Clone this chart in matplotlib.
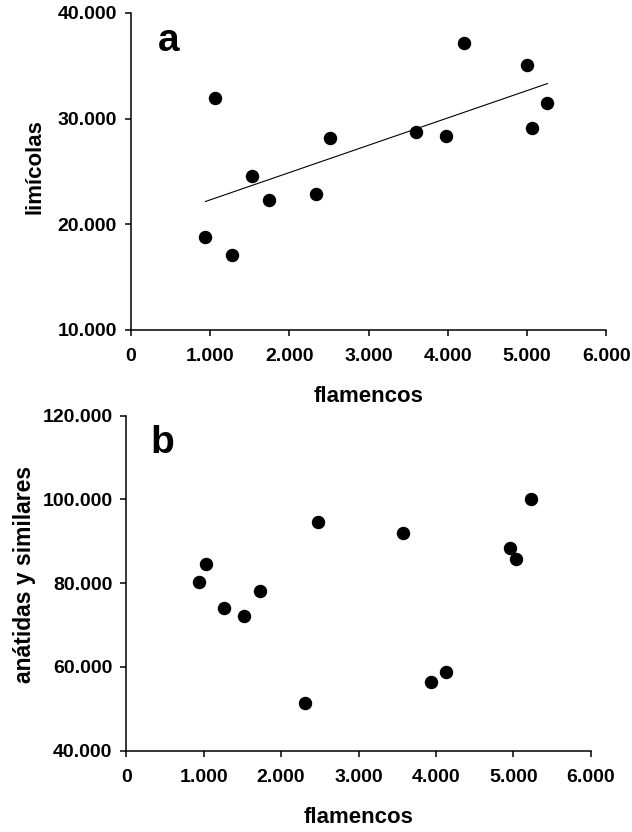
import numpy as np
import matplotlib
matplotlib.use("Agg")
import matplotlib.pyplot as plt
from matplotlib.ticker import FuncFormatter

plt.rcParams['font.family'] = ['Liberation Sans', 'DejaVu Sans']
plt.rcParams['font.weight'] = 'bold'

# panel a: flamencos vs limicolas
flamencos_a = [940, 1060, 1270, 1530, 1740, 2340, 2510, 3600, 3980, 4200, 5000, 5060, 5260]
limicolas = [18800, 32000, 17100, 24600, 22300, 22900, 28200, 28750, 28400, 37200, 35100, 29100, 31500]

# panel b: flamencos vs anatidas y similares
flamencos_b = [940, 1030, 1260, 1520, 1730, 2310, 2480, 3570, 3940, 4130, 4960, 5040, 5230]
anatidas = [80400, 84600, 74200, 72200, 78100, 51500, 94700, 91900, 56500, 58700, 88400, 85900, 100100]

xticks = [0, 1000, 2000, 3000, 4000, 5000, 6000]
yticks_a = [10000, 20000, 30000, 40000]
yticks_b = [40000, 60000, 80000, 100000, 120000]


def miles(v, pos):
    return f"{v:,.0f}".replace(",", ".")


def style(ax):
    for s in ['top', 'right']:
        ax.spines[s].set_visible(False)
    for s in ['left', 'bottom']:
        ax.spines[s].set_linewidth(1.1)
    ax.tick_params(axis='both', direction='out', length=4, width=1.1,
                   labelsize=14)
    ax.tick_params(axis='x', pad=9)
    ax.tick_params(axis='y', pad=6)
    ax.xaxis.set_major_formatter(FuncFormatter(miles))
    ax.yaxis.set_major_formatter(FuncFormatter(miles))
    for lab in ax.get_xticklabels() + ax.get_yticklabels():
        lab.set_fontweight('bold')


fig = plt.figure(figsize=(6.32, 8.32), dpi=100)

ax1 = fig.add_axes([0.2073, 0.6034, 0.7517, 0.3810])
ax1.scatter(flamencos_a, limicolas, s=75, color='black', zorder=3)
coef = np.polyfit(flamencos_a, limicolas, 1)
xl = np.array([min(flamencos_a), max(flamencos_a)])
ax1.plot(xl, np.polyval(coef, xl), color='black', lw=0.8)
ax1.set_xlim(0, 6000)
ax1.set_ylim(10000, 40000)
ax1.set_xticks(xticks)
ax1.set_yticks(yticks_a)
style(ax1)
ax1.set_xlabel('flamencos', fontsize=16, fontweight='bold', labelpad=15)
ax1.set_ylabel('limícolas', fontsize=16, fontweight='bold')
ax1.yaxis.set_label_coords(-0.179, 0.515)
ax1.text(0.057, 0.879, 'a', transform=ax1.transAxes, fontsize=28,
         fontweight='bold', ha='left', va='baseline')

ax2 = fig.add_axes([0.1998, 0.0977, 0.7349, 0.4026])
ax2.scatter(flamencos_b, anatidas, s=75, color='black', zorder=3)
ax2.set_xlim(0, 6000)
ax2.set_ylim(40000, 120000)
ax2.set_xticks(xticks)
ax2.set_yticks(yticks_b)
style(ax2)
ax2.set_xlabel('flamencos', fontsize=16, fontweight='bold', labelpad=15)
ax2.set_ylabel('anátidas y similares', fontsize=16.5, fontweight='bold')
ax2.yaxis.set_label_coords(-0.195, 0.527)
ax2.text(0.051, 0.890, 'b', transform=ax2.transAxes, fontsize=28,
         fontweight='bold', ha='left', va='baseline')

fig.savefig('out.png', dpi=100)
